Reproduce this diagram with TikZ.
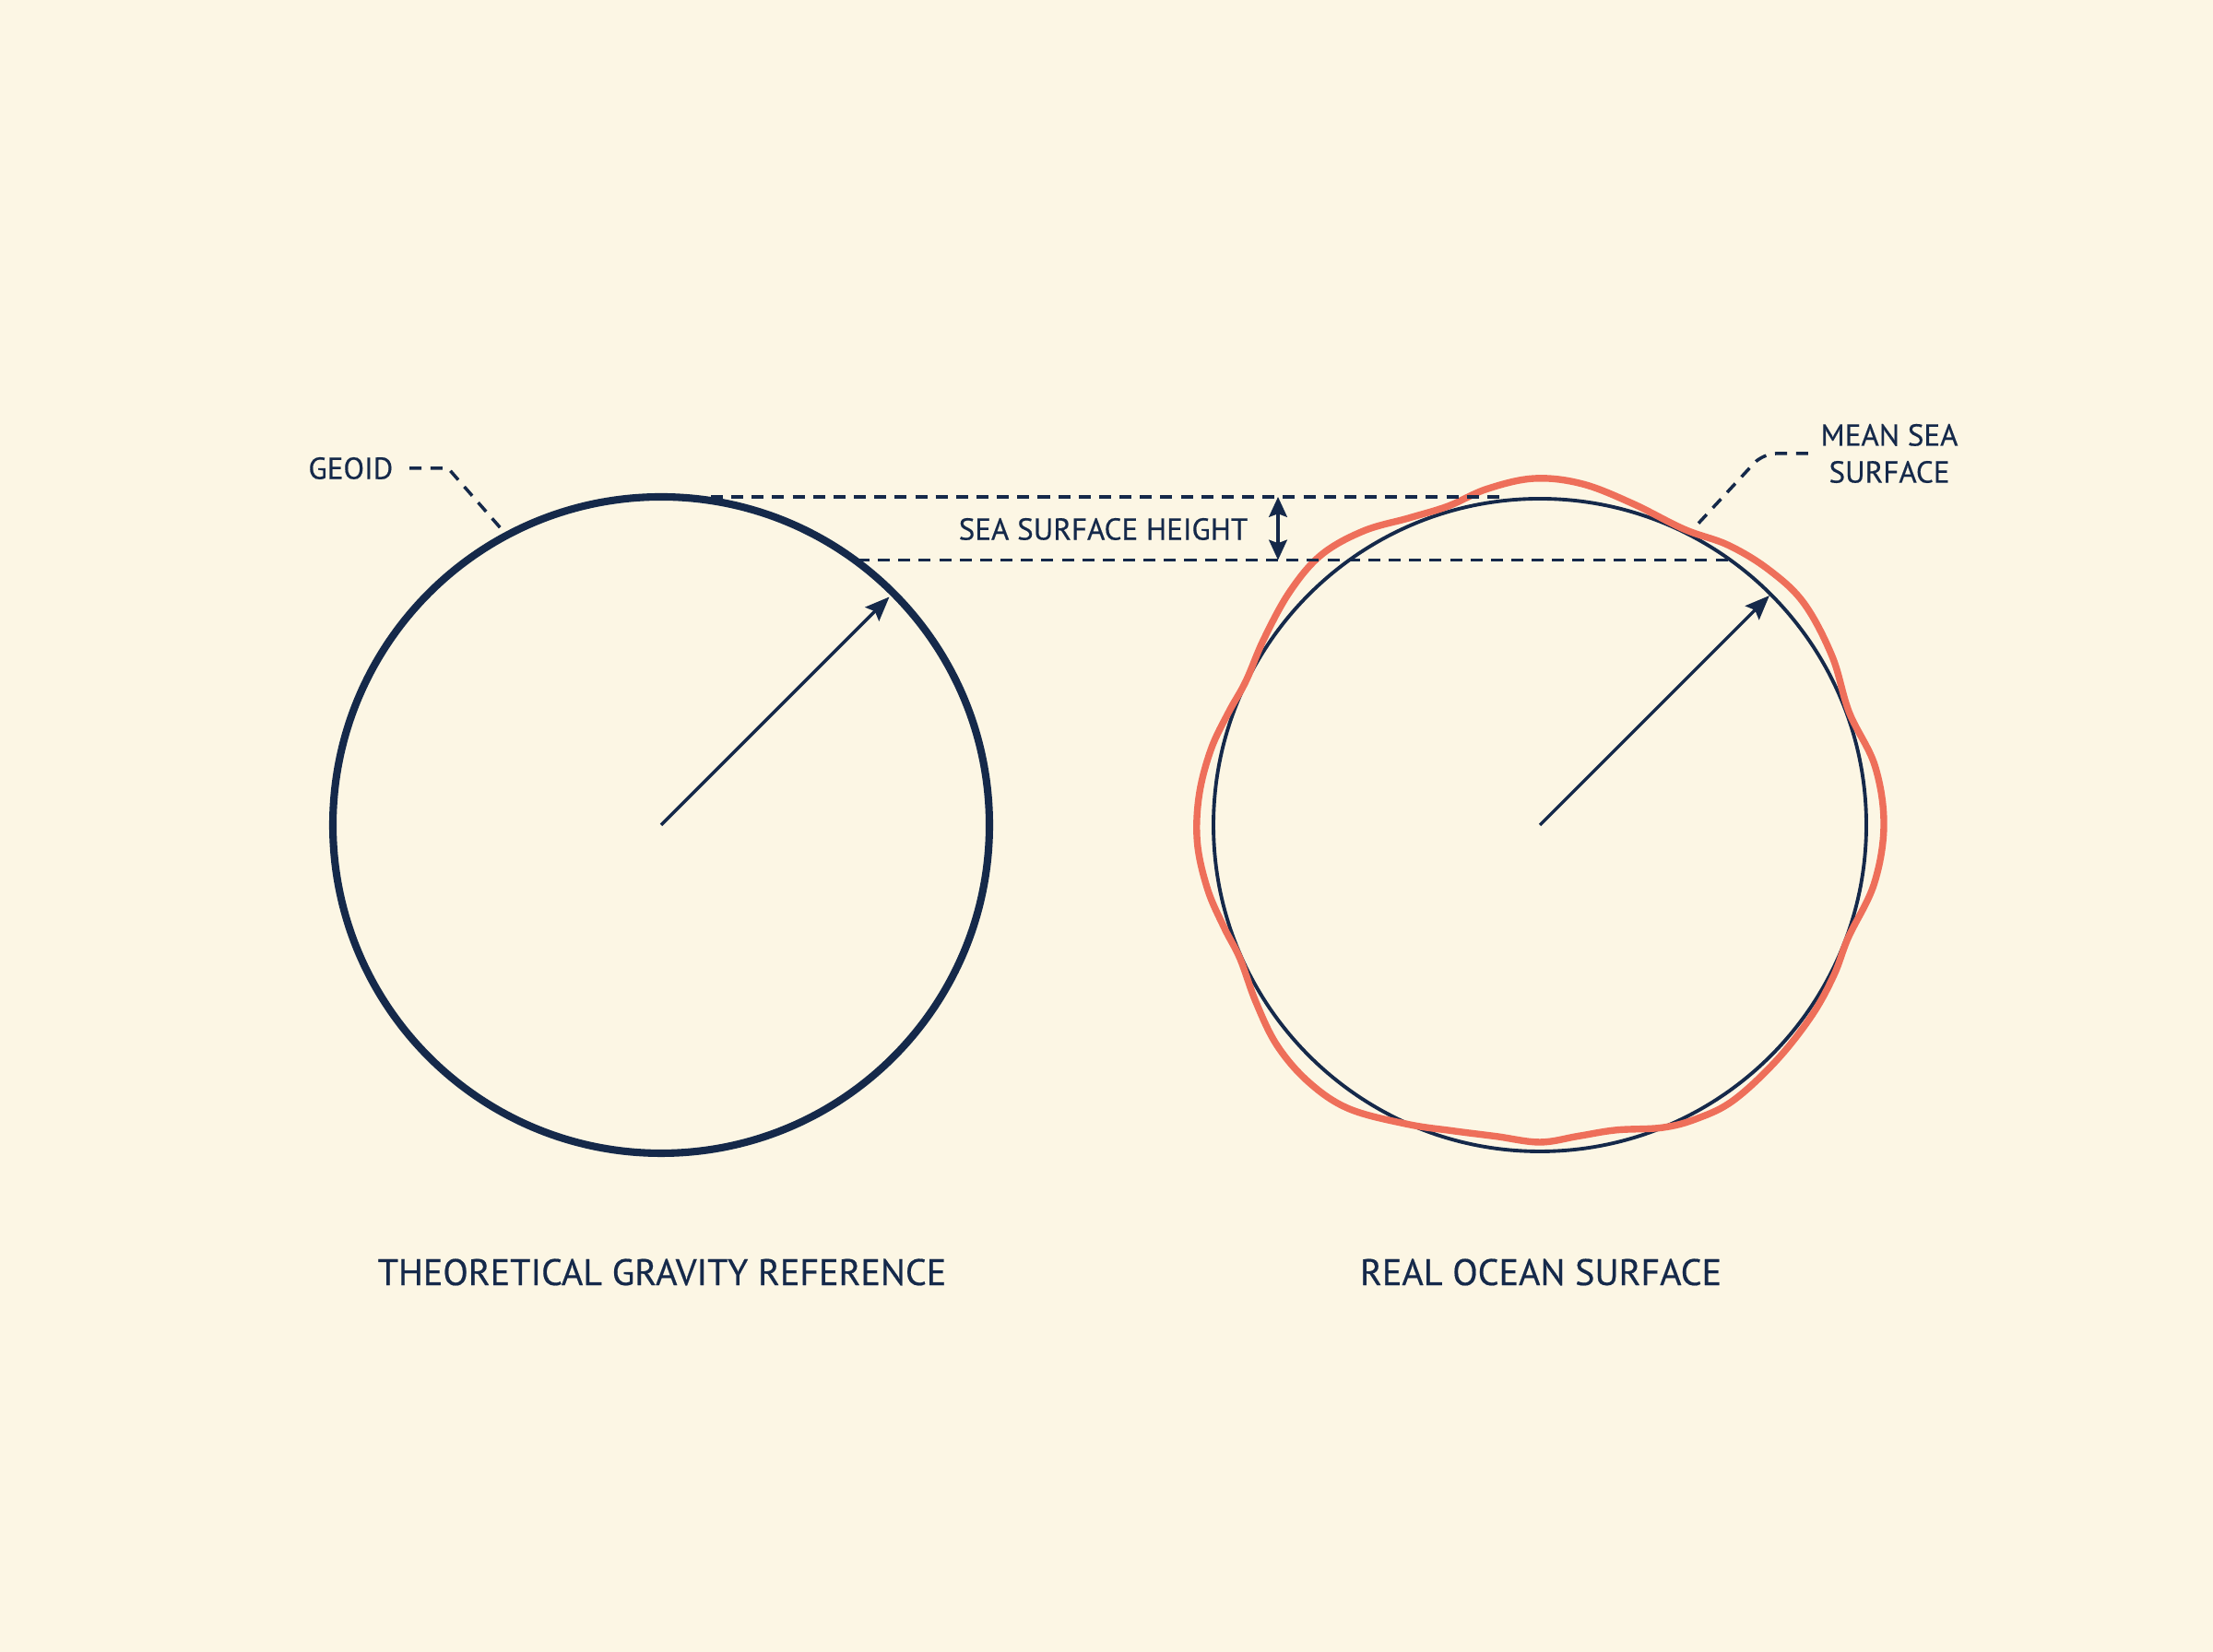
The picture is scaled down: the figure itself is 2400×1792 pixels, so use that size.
\documentclass[tikz,border=0pt]{standalone}
\usepackage{fontspec}
\setmainfont{PT Sans}
\newfontfamily\lblfont[FakeBold=0.45]{PT Sans}
\usetikzlibrary{arrows.meta}
\definecolor{paper}{HTML}{FCF6E4}
\definecolor{navy}{HTML}{15294A}
\definecolor{coral}{HTML}{EE6F5A}
\begin{document}
\begin{tikzpicture}[x=0.01cm,y=0.01cm,
  lbl/.style={text=navy, inner sep=0pt, font=\lblfont\fontsize{9.4}{11.4}\selectfont},
  biglbl/.style={text=navy, inner sep=0pt, font=\lblfont\fontsize{11.4}{13}\selectfont},
  leader/.style={draw=navy, line width=1pt, dash pattern=on 3.7pt off 2.8pt},
  refline/.style={draw=navy, line width=1.1pt, dash pattern=on 3.7pt off 2.6pt},
  radiusarrow/.style={draw=navy, line width=1pt, -{Stealth[length=7.5pt,width=6pt,inset=1.2pt]}},
  sizearrow/.style={draw=navy, line width=1pt, {Stealth[length=6.2pt,width=5.6pt,inset=1pt]}-{Stealth[length=6.2pt,width=5.6pt,inset=1pt]}},
]
\fill[paper] (0,0) rectangle (2400,1792);
\useasboundingbox (0,0) rectangle (2400,1792);

% centres and key points
\coordinate (c1) at (717,897);
\coordinate (c2) at (1670,897);
\coordinate (t1) at (964.5,1144.5);
\coordinate (t2) at (1918.9,1145.9);
\coordinate (topL) at (771,1253);
\coordinate (topR) at (1635,1253);
\coordinate (botL) at (930,1184.5);
\coordinate (botR) at (1877,1184.5);
\coordinate (sshtop) at (1386,1253);
\coordinate (sshbot) at (1386,1184.5);
\coordinate (geoidbend) at (486,1284);
\coordinate (geoidend) at (550,1211);
\coordinate (mssbend) at (1912,1300);
\coordinate (mssend) at (1838,1220);

% left: theoretical reference
\draw[navy, line width=2.3pt] (c1) circle[radius=356];
\draw[radiusarrow] (c1) -- (t1);

% right: real ocean surface
\draw[navy, line width=1.1pt] (c2) circle[radius=354];
\begin{scope}[shift={(c2)}]
\draw[coral, line width=2.1pt] plot[smooth cycle, tension=0.6] coordinates {
 (0:373) (10:369) (20:357) (30:366) (40:374) (48:372) (56:366) (64:357)
 (74:363) (83:373) (91:376) (99:369) (106:360) (113:362) (121:372) (129:377)
 (137:371) (146:361) (154:355) (160:359) (167:366) (175:371) (183:372) (191:367) (198:360) (204:356)
 (212:363) (220:372) (228:375) (236:371) (246:355) (254:345) (262:341) (270:344)
 (277:340) (284:341) (292:354) (298:361) (305:365) (315:362) (325:360) (333:358)
 (340:356) (350:368)};
\end{scope}
\draw[radiusarrow] (c2) -- (t2);

% sea surface height reference lines
\draw[refline] (topL) -- (topR);
\draw[refline] (botL) -- (botR);
\draw[sizearrow] (sshtop) -- (sshbot);
\node[lbl, anchor=east] (ssh) at (1354,1218) {SEA SURFACE HEIGHT};

% labels
\node[lbl, anchor=east] (geoid) at (427,1284) {GEOID};
\draw[leader] ([xshift=0.17cm]geoid.east) -- (geoidbend) -- (geoidend);

\node[lbl, align=center] (mss) at (2049,1300) {MEAN SEA\\SURFACE};
\draw[leader, rounded corners=4pt] ([xshift=-0.13cm]mss.west) -- (mssbend) -- (mssend);

\node[biglbl] (leftlbl) at (718,412) {THEORETICAL GRAVITY REFERENCE};
\node[biglbl] (rightlbl) at (1671,412) {REAL OCEAN SURFACE};
\end{tikzpicture}
\end{document}
